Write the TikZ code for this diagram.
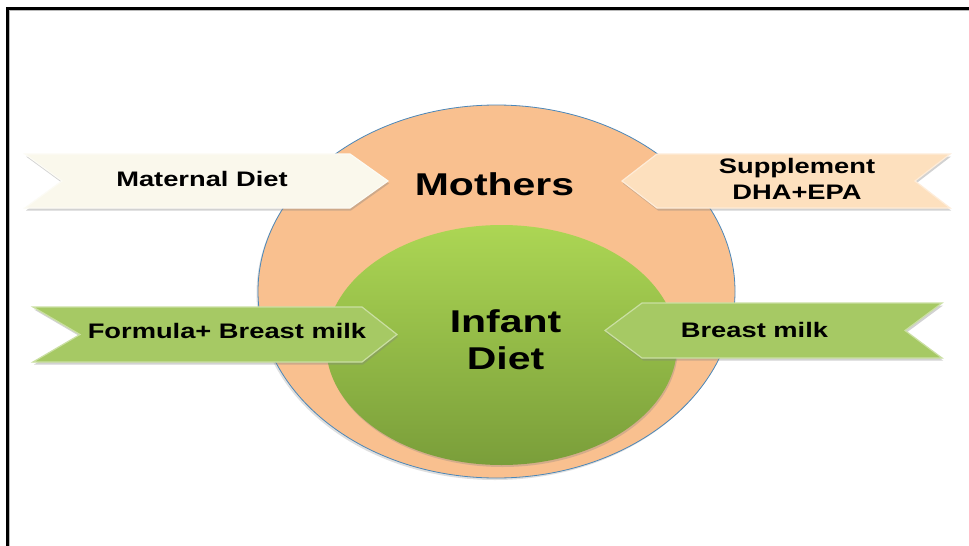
\documentclass[tikz,border=0pt]{standalone}
\usepackage{fontspec}
\setmainfont{Liberation Sans}
\usetikzlibrary{shapes.geometric,shadows}
\definecolor{peach}{RGB}{249,192,143}
\definecolor{outline}{RGB}{75,135,185}
\definecolor{gtop}{RGB}{172,214,84}
\definecolor{gbot}{RGB}{122,158,58}
\definecolor{cream}{RGB}{250,248,236}
\definecolor{sup}{RGB}{253,224,190}
\definecolor{rg}{RGB}{166,201,100}
\newcommand{\sx}[1]{\scalebox{1.3}[1]{#1}}
\begin{document}
\begin{tikzpicture}[x=1pt,y=-1pt,
  lbl/.style={font=\bfseries\fontsize{21}{26.5}\selectfont, align=center, inner sep=0pt},
  big/.style={font=\bfseries\fontsize{31.5}{37}\selectfont, align=center, inner sep=0pt},
  ribbon/.style={drop shadow={opacity=0.35, shadow xshift=1pt, shadow yshift=-2.5pt}, fill=#1, draw=#1!60!white, line width=1.2pt, line join=miter},
  blob/.style={ellipse, inner sep=0pt, outer sep=0pt}
]
\useasboundingbox (0,0) rectangle (969,546);
\fill[white] (0,0) rectangle (969,546);
% frame
\draw[gray!55, line width=1pt] (9.5,546) -- (9.5,10.5) -- (969,10.5);
\draw[line width=3pt] (7.5,546) -- (7.5,8.5) -- (969,8.5);
% circles
\node[blob, minimum width=477pt, minimum height=373pt, fill=peach, draw=outline, line width=0.8pt,
  drop shadow={opacity=0.25, shadow xshift=-1.5pt, shadow yshift=-2pt}] (mothersbg) at (496.5,291.5) {};
\node[blob, minimum width=351pt, minimum height=240pt, top color=gtop, bottom color=gbot,
  drop shadow={opacity=0.3, shadow xshift=1pt, shadow yshift=-2pt}] (infantbg) at (501.5,345) {};
% ribbons
\path[ribbon=cream]
  (25,154) -- (350,154) -- (388,181) -- (350,208) -- (25,208) -- (62,181) -- cycle;
\path[ribbon=sup]
  (622,181) -- (657,154) -- (950,154) -- (915,181) -- (950,208) -- (657,208) -- cycle;
\path[ribbon=rg]
  (33,307) -- (362,307) -- (397,334.5) -- (362,362) -- (33,362) -- (80,334.5) -- cycle;
\path[ribbon=rg]
  (605,330.5) -- (642,303) -- (942,303) -- (905,330.5) -- (942,358) -- (642,358) -- cycle;
% texts
\node[lbl, anchor=base] (tmat) at (202,186) {\sx{Maternal Diet}};
\node[lbl] (tsup) at (797,179) {\sx{Supplement}\\\sx{DHA+EPA}};
\node[lbl, anchor=base] (tform) at (227,338.5) {\sx{Formula+ Breast milk}};
\node[lbl, anchor=base] (tbm) at (754.5,337) {\sx{Breast milk}};
\node[big, anchor=base] (tmoth) at (494.5,195) {\sx{Mothers}};
\node[big] (tinf) at (505.5,340) {\sx{Infant}\\\sx{Diet}};
\end{tikzpicture}
\end{document}
